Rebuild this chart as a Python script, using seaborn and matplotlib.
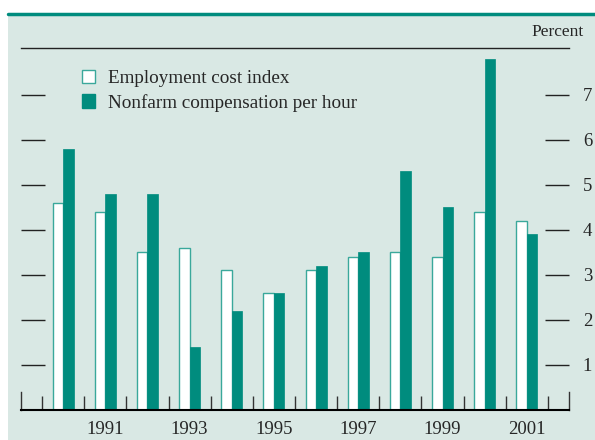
import numpy as np
import pandas as pd
import matplotlib
matplotlib.use('Agg')
import matplotlib.pyplot as plt
from matplotlib.patches import Patch, Rectangle
import seaborn as sns

# values (percent change)
years = [str(y) for y in range(1990, 2002)]
eci = [4.6, 4.4, 3.5, 3.6, 3.1, 2.6, 3.1, 3.4, 3.5, 3.4, 4.4, 4.2]
nonfarm = [5.8, 4.8, 4.8, 1.4, 2.2, 2.6, 3.2, 3.5, 5.3, 4.5, 7.8, 3.9]
series_names = ['Employment cost index', 'Nonfarm compensation per hour']
label_years = ['1991', '1993', '1995', '1997', '1999', '2001']

teal = '#008c7e'
edge_teal = '#3aa89b'
bg = '#d9e8e4'

df = pd.DataFrame({
    'year': years * 2,
    'value': eci + nonfarm,
    'series': [series_names[0]] * len(years) + [series_names[1]] * len(years),
})

sns.set_style('white')
plt.rcParams['font.family'] = ['Liberation Serif', 'DejaVu Serif']

fig = plt.figure(figsize=(5.95, 4.4), dpi=100)
# shaded panel and teal rule at the top
fig.patches.append(Rectangle((8 / 595, 0), 1, (440 - 14) / 440, transform=fig.transFigure,
                             facecolor=bg, edgecolor='none', zorder=-2))
fig.lines.append(plt.Line2D([8 / 595, 1], [(440 - 14) / 440] * 2, transform=fig.transFigure,
                            color=teal, lw=2.5, zorder=-1))

ax = fig.add_axes([21 / 595, 30 / 440, 548 / 595, 362 / 440])
ax.set_facecolor('none')

sns.barplot(data=df, x='year', y='value', hue='series', order=years,
            palette=['white', teal], width=0.5, saturation=1, ax=ax, legend=False)

for p in ax.containers[0]:
    p.set_edgecolor(edge_teal)
    p.set_linewidth(1.0)
for p in ax.containers[1]:
    p.set_edgecolor(teal)
    p.set_linewidth(0.5)

ax.set_xlim(-1, 12)
ax.set_ylim(0, 8.04)
ax.set_xlabel('')
ax.set_ylabel('')

# spines
for s in ['left', 'right']:
    ax.spines[s].set_visible(True)
    ax.spines[s].set_bounds(0, 0.4)
    ax.spines[s].set_color('#333333')
    ax.spines[s].set_linewidth(1.0)
ax.spines['bottom'].set_color('black')
ax.spines['bottom'].set_linewidth(1.5)
ax.spines['top'].set_visible(True)
ax.spines['top'].set_color('#222222')
ax.spines['top'].set_linewidth(1.0)

# x ticks: labels at odd years, short ticks between groups
idx = [years.index(y) for y in label_years]
ax.set_xticks(idx)
ax.set_xticklabels(label_years, fontsize=13.5)
ax.set_xticks(np.arange(-0.5, 12, 1), minor=True)
ax.tick_params(axis='x', which='major', length=0, pad=8)
ax.tick_params(axis='x', which='minor', bottom=True, direction='in', length=10, width=1.0,
               color='#333333')

# y ticks on both sides, labels on the right
ax.set_yticks(range(1, 8))
ax.set_yticklabels([str(v) for v in range(1, 8)], fontsize=13.5)
ax.tick_params(axis='y', which='major', direction='in', length=17.5, width=1.0, color='#222222',
               left=True, right=True, labelleft=False, labelright=True, pad=10)

handles = [Patch(facecolor='white', edgecolor=edge_teal, linewidth=1.0),
           Patch(facecolor=teal, edgecolor=teal)]
ax.legend(handles, series_names, loc='upper left', bbox_to_anchor=(0.111, 0.94),
          frameon=False, fontsize=13.8, handlelength=0.7, handleheight=0.7,
          handletextpad=0.65, labelspacing=0.36, borderpad=0, borderaxespad=0)

fig.text(584 / 595, (440 - 32) / 440, 'Percent', ha='right', va='center', fontsize=12.5)

fig.savefig('out.png', dpi=100, facecolor='white')
